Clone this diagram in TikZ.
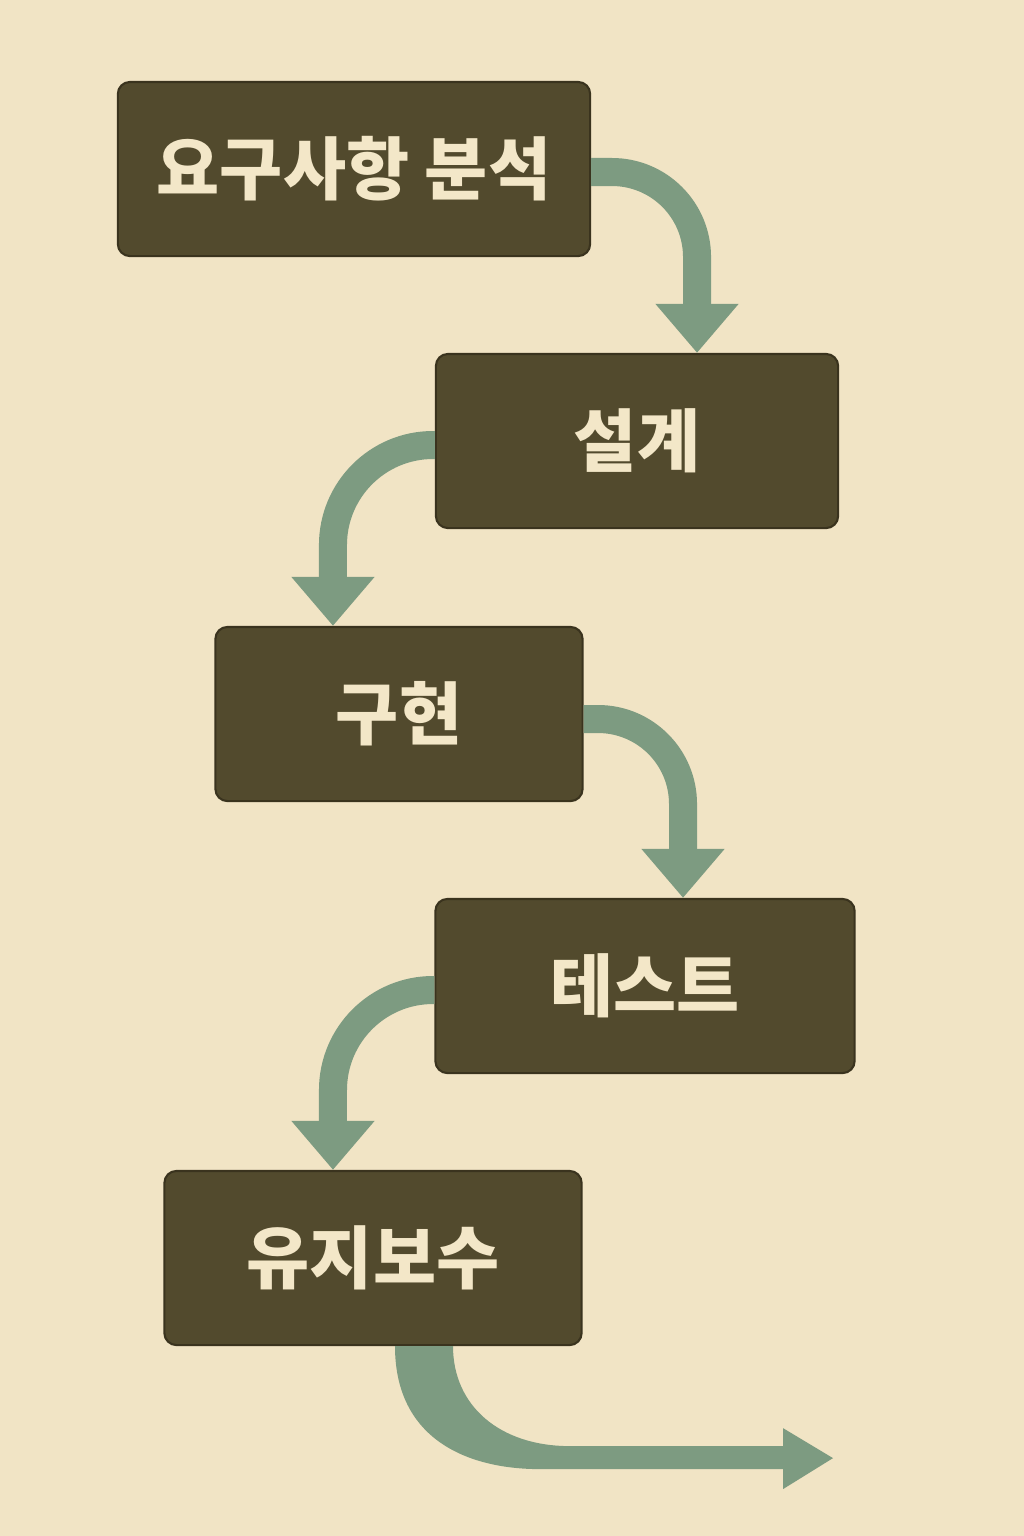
\documentclass[tikz,border=0pt]{standalone}
\usepackage{fontspec}
\setmainfont{Noto Sans CJK KR}
\usepackage{tikz}
\usetikzlibrary{arrows.meta, positioning, calc}
\definecolor{paper}{HTML}{F1E4C5}
\definecolor{olive}{HTML}{524A2D}
\definecolor{oliveedge}{HTML}{3A331E}
\definecolor{cream}{HTML}{F3E7C8}
\definecolor{sage}{HTML}{7D9B81}

\begin{document}
\begin{tikzpicture}[x=0.01cm, y=-0.01cm,
    box/.style={rectangle, rounded corners=0.12cm, draw=oliveedge, line width=0.6pt, fill=olive,
        text=cream, minimum height=1.74cm, font=\fontsize{19.5}{22}\selectfont\bfseries},
    arrow/.style={-{Triangle[width=0.8cm, length=0.49cm]}, draw=sage, line width=0.28cm}
]
    \fill[paper] (0,0) rectangle (1024,1536);
    \useasboundingbox (0,0) rectangle (1024,1536);
    \node[box, minimum width=4.72cm] (req) at (354,169) {요구사항 분석};
    \node[box, minimum width=4.02cm] (design) at (637,441) {설계};
    \node[box, minimum width=3.67cm] (impl) at (399,714) {구현};
    \node[box, minimum width=4.19cm] (test) at (645,986) {테스트};
    \node[box, minimum width=4.17cm] (maint) at (373,1258) {유지보수};
    \draw[arrow, rounded corners=0.85cm] ([yshift=-0.03cm]req.east) -| ([xshift=0.6cm]design.north);
    \draw[arrow, rounded corners=1cm] ([yshift=-0.04cm]design.west) -| ([xshift=-0.66cm]impl.north);
    \draw[arrow, rounded corners=0.85cm] ([yshift=-0.05cm]impl.east) -| ([xshift=0.38cm]test.north);
    \draw[arrow, rounded corners=1cm] ([yshift=-0.04cm]test.west) -| ([xshift=-0.4cm]maint.north);
    \fill[sage] ($(maint.south)+(22,0)$) .. controls ($(maint.south)+(22,95)$) and ($(maint.south)+(97,123)$) .. ($(maint.south)+(167,123)$)
        -- ($(maint.south)+(410,123)$) -- ($(maint.south)+(410,143)$) -- ($(maint.south)+(460,112)$)
        -- ($(maint.south)+(410,82)$) -- ($(maint.south)+(410,100)$) -- ($(maint.south)+(197,100)$)
        .. controls ($(maint.south)+(127,100)$) and ($(maint.south)+(80,60)$) .. ($(maint.south)+(80,0)$) -- cycle;
\end{tikzpicture}
\end{document}
